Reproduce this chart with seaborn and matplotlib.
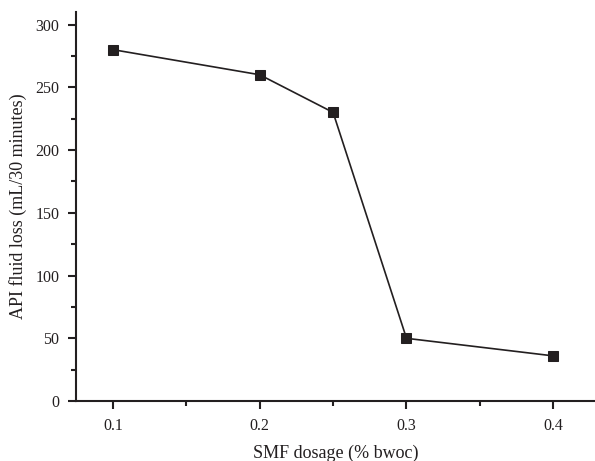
import matplotlib
matplotlib.use("Agg")
import matplotlib.pyplot as plt
import seaborn as sns
import pandas as pd
from matplotlib.ticker import MultipleLocator

dosage = [0.1, 0.2, 0.25, 0.3, 0.4]
fluid_loss = [280, 260, 230, 50, 36]

df = pd.DataFrame({"dosage": dosage, "loss": fluid_loss})

sns.set_style("ticks")
plt.rcParams["font.family"] = ["Liberation Serif", "DejaVu Serif"]
ink = "#231f20"

fig = plt.figure(figsize=(5.95, 4.61), dpi=100)
ax = fig.add_axes([0.128, 0.130, 0.871, 0.844])

sns.lineplot(data=df, x="dosage", y="loss", ax=ax, color=ink, linewidth=1.2,
             marker="s", markersize=7, markeredgecolor=ink, markerfacecolor=ink)

ax.set_xlim(0.075, 0.428)
ax.set_ylim(0, 310)
ax.set_xticks([0.1, 0.2, 0.3, 0.4])
ax.set_yticks([0, 50, 100, 150, 200, 250, 300])
ax.xaxis.set_minor_locator(MultipleLocator(0.05))
ax.yaxis.set_minor_locator(MultipleLocator(25))
ax.tick_params(which="major", direction="out", length=6, width=1.5, color=ink,
               labelsize=11.5, labelcolor=ink, pad=6)
ax.tick_params(which="minor", direction="out", length=3.5, width=1.5, color=ink)

for s in ["top", "right"]:
    ax.spines[s].set_visible(False)
for s in ["left", "bottom"]:
    ax.spines[s].set_linewidth(1.5)
    ax.spines[s].set_color(ink)

ax.set_xlabel("SMF dosage (% bwoc)", fontsize=13, color=ink, labelpad=8)
ax.set_ylabel("API fluid loss (mL/30 minutes)", fontsize=13, color=ink, labelpad=6)

fig.savefig("out.png", dpi=100)
